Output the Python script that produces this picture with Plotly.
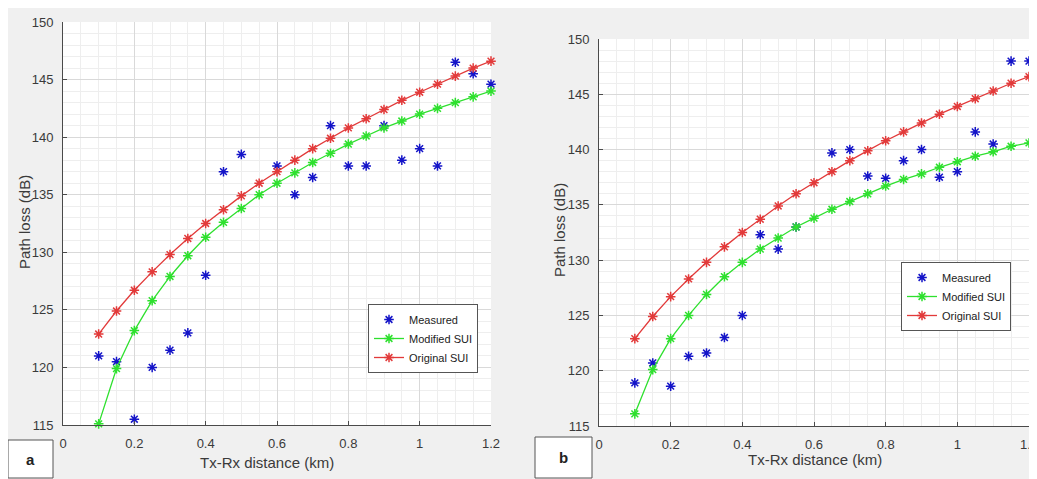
import plotly.graph_objects as go

# page body has an 8px margin; the figure is sized to fill the rest of the window
PAGE_W, PAGE_H = 1037, 479
OFF = 8
W, H = PAGE_W - OFF, PAGE_H - OFF

# ---------------- data ----------------
dist = [0.10, 0.15, 0.20, 0.25, 0.30, 0.35, 0.40, 0.45, 0.50, 0.55, 0.60, 0.65,
        0.70, 0.75, 0.80, 0.85, 0.90, 0.95, 1.00, 1.05, 1.10, 1.15, 1.20]

original_sui = [122.9, 124.9, 126.7, 128.3, 129.8, 131.2, 132.5, 133.7, 134.9, 136.0,
                137.0, 138.0, 139.0, 139.9, 140.8, 141.6, 142.4, 143.2, 143.9, 144.6,
                145.3, 146.0, 146.6]

modified_sui_a = [115.1, 119.9, 123.2, 125.8, 127.9, 129.7, 131.3, 132.6, 133.8, 135.0,
                  136.0, 136.9, 137.8, 138.6, 139.4, 140.1, 140.8, 141.4, 142.0, 142.5,
                  143.0, 143.5, 144.0]

measured_a_x = [0.10, 0.15, 0.20, 0.25, 0.30, 0.35, 0.40, 0.45, 0.50, 0.60, 0.65,
                0.70, 0.75, 0.80, 0.85, 0.90, 0.95, 1.00, 1.05, 1.10, 1.15, 1.20]
measured_a = [121.0, 120.5, 115.5, 120.0, 121.5, 123.0, 128.0, 137.0, 138.5, 137.5, 135.0,
              136.5, 141.0, 137.5, 137.5, 141.0, 138.0, 139.0, 137.5, 146.5, 145.5, 144.6]

modified_sui_b = [116.1, 120.1, 122.9, 125.0, 126.9, 128.5, 129.8, 131.0, 132.0, 133.0,
                  133.8, 134.6, 135.3, 136.0, 136.7, 137.3, 137.8, 138.4, 138.9, 139.4,
                  139.8, 140.3, 140.6]

measured_b_x = [0.10, 0.15, 0.20, 0.25, 0.30, 0.35, 0.40, 0.45, 0.50, 0.55, 0.65,
                0.70, 0.75, 0.80, 0.85, 0.90, 0.95, 1.00, 1.05, 1.10, 1.15, 1.20]
measured_b = [118.9, 120.7, 118.6, 121.3, 121.6, 123.0, 125.0, 132.3, 131.0, 133.0, 139.7,
              140.0, 137.6, 137.4, 139.0, 140.0, 137.5, 138.0, 141.6, 140.5, 148.0, 148.0]

x_ticks = [0, 0.2, 0.4, 0.6, 0.8, 1.0, 1.2]
x_tick_text = ["0", "0.2", "0.4", "0.6", "0.8", "1", "1.2"]
y_ticks = [115, 120, 125, 130, 135, 140, 145, 150]
y_tick_text = [str(v) for v in y_ticks]

series_names = ["Measured", "Modified SUI", "Original SUI"]
panel_labels = ["a", "b"]
x_title = "Tx-Rx distance (km)"
y_title = "Path loss (dB)"

# ---------------- styling ----------------
FONT = "Liberation Sans, Arial, sans-serif"
BLUE = "#1414c8"
GREEN = "#2ee02e"
RED = "#e23a3a"
TXT = "#3a3a3a"


def px(x):
    return (x - OFF) / W


def py(y):
    return 1 - (y - OFF) / H


fig = go.Figure()

panels = [
    dict(xa="x", ya="y", leg="legend", mx=measured_a_x, my=measured_a, mod=modified_sui_a),
    dict(xa="x2", ya="y2", leg="legend2", mx=measured_b_x, my=measured_b, mod=modified_sui_b),
]


def star(color):
    return dict(symbol="asterisk-open", size=8, color=color,
                line=dict(color=color, width=1.5))


for p in panels:
    fig.add_trace(go.Scatter(
        x=p["mx"], y=p["my"], mode="markers", name=series_names[0],
        marker=star(BLUE),
        xaxis=p["xa"], yaxis=p["ya"], legend=p["leg"], cliponaxis=False))
    fig.add_trace(go.Scatter(
        x=dist, y=p["mod"], mode="lines+markers", name=series_names[1],
        line=dict(color=GREEN, width=1.3), marker=star(GREEN),
        xaxis=p["xa"], yaxis=p["ya"], legend=p["leg"], cliponaxis=False))
    fig.add_trace(go.Scatter(
        x=dist, y=original_sui, mode="lines+markers", name=series_names[2],
        line=dict(color=RED, width=1.3), marker=star(RED),
        xaxis=p["xa"], yaxis=p["ya"], legend=p["leg"], cliponaxis=False))

common_x = dict(
    range=[0, 1.2], tickvals=x_ticks, ticktext=x_tick_text,
    showgrid=True, gridcolor="#d9d9d9", gridwidth=1,
    minor=dict(dtick=0.05, showgrid=True, gridcolor="#eeeeee", gridwidth=1),
    showline=True, linecolor="#4a4a4a", linewidth=1,
    ticks="inside", ticklen=4, tickcolor="#4a4a4a",
    tickfont=dict(family=FONT, size=13, color=TXT),
    ticklabelstandoff=6, ticklabeloverflow="allow",
    zeroline=False, fixedrange=True, automargin=False,
)
common_y = dict(
    range=[115, 150], tickvals=y_ticks, ticktext=y_tick_text,
    showgrid=True, gridcolor="#d9d9d9", gridwidth=1,
    minor=dict(dtick=1, showgrid=True, gridcolor="#eeeeee", gridwidth=1),
    showline=True, linecolor="#4a4a4a", linewidth=1,
    ticks="inside", ticklen=4, tickcolor="#4a4a4a",
    tickfont=dict(family=FONT, size=13, color=TXT),
    ticklabelstandoff=6, ticklabeloverflow="allow",
    zeroline=False, fixedrange=True, automargin=False,
)

legend_common = dict(
    bgcolor="white", bordercolor="#555555", borderwidth=1,
    font=dict(family=FONT, size=11, color="#222222"),
    xanchor="left", yanchor="top", tracegroupgap=0, itemwidth=30,
)

fig.update_layout(
    width=W, height=H,
    margin=dict(l=0, r=0, t=0, b=0, autoexpand=False),
    paper_bgcolor="#f0f0f0", plot_bgcolor="white",
    xaxis=dict(domain=[px(63), px(491)], anchor="y", **common_x),
    yaxis=dict(domain=[py(425), py(22)], anchor="x", **common_y),
    xaxis2=dict(domain=[px(599), px(1029)], anchor="y2", **common_x),
    yaxis2=dict(domain=[py(426), py(39)], anchor="x2", **common_y),
    legend=dict(x=px(368), y=py(304), **legend_common),
    legend2=dict(x=px(901), y=py(262), **legend_common),
    showlegend=True,
)

# axis titles
title_font = dict(family=FONT, size=15, color=TXT)
for xc, yc in [(267, 462), (815, 459)]:
    fig.add_annotation(text=x_title, xref="paper", yref="paper", x=px(xc), y=py(yc),
                       showarrow=False, font=title_font, xanchor="center", yanchor="middle")
for xc, yc in [(24, 222), (559, 230)]:
    fig.add_annotation(text=y_title, xref="paper", yref="paper", x=px(xc), y=py(yc),
                       showarrow=False, font=title_font, textangle=-90,
                       xanchor="center", yanchor="middle")

# panel label boxes
for (x0, x1, y0), lab in zip([(8, 53, 440), (535, 592, 437)], panel_labels):
    fig.add_shape(type="rect", xref="paper", yref="paper", x0=px(x0), x1=px(x1),
                  y0=py(478), y1=py(y0), fillcolor="white",
                  line=dict(color="#555555", width=1))
    fig.add_annotation(text="<b>" + lab + "</b>", xref="paper", yref="paper",
                       x=px((x0 + x1) / 2), y=py((y0 + 478) / 2), showarrow=False,
                       font=dict(family=FONT, size=15, color="#222222"),
                       xanchor="center", yanchor="middle")

fig.write_html("out.html")
